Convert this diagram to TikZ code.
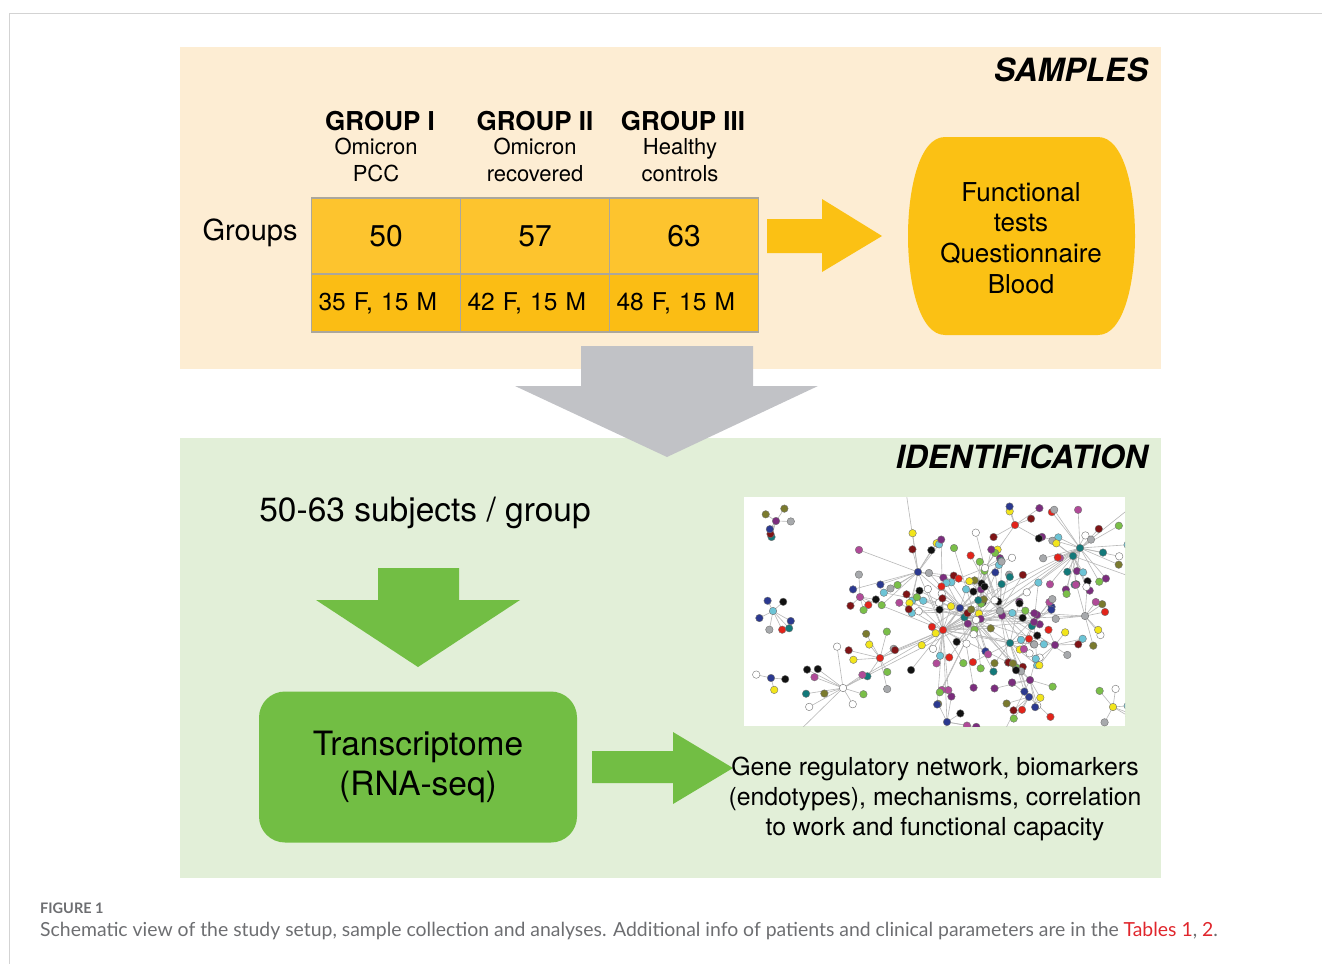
\documentclass[tikz,border=0pt]{standalone}
\usepackage{fontspec}
\setmainfont{TeX Gyre Heros}
\newfontfamily\capfont{Lato}
\usetikzlibrary{positioning}

\newcommand{\fsz}[2]{\fontsize{#1}{#2}\selectfont}

\definecolor{cream}{HTML}{FDEDD3}
\definecolor{mint}{HTML}{E2EFD8}
\definecolor{topfill}{HTML}{FDC42E}
\definecolor{lowfill}{HTML}{FBBD14}
\definecolor{cellline}{HTML}{ABA79C}
\definecolor{sunny}{HTML}{FBC114}
\definecolor{ash}{HTML}{C1C2C6}
\definecolor{leaf}{HTML}{72BE44}
\definecolor{frameline}{HTML}{D3D3D3}
\definecolor{capgrey}{HTML}{6D6E71}
\definecolor{capred}{HTML}{E0262C}
\definecolor{linkgrey}{HTML}{B8B8B8}
% node colours of the network
\definecolor{nc1}{HTML}{7B2D7E}
\definecolor{nc2}{HTML}{13797A}
\definecolor{nc3}{HTML}{6CC4D6}
\definecolor{nc4}{HTML}{7ABF48}
\definecolor{nc5}{HTML}{A7A9AC}
\definecolor{nc6}{HTML}{2B3990}
\definecolor{nc7}{HTML}{E2231A}
\definecolor{nc8}{HTML}{7F1416}
\definecolor{nc9}{HTML}{F2E51B}
\definecolor{nc10}{HTML}{7A7A2E}
\definecolor{nc11}{HTML}{B04A98}
\definecolor{nc12}{HTML}{111111}
\definecolor{nc13}{HTML}{FFFFFF}

\begin{document}
\begin{tikzpicture}[x=1pt, y=-1pt]
	\tikzstyle{Cell} = [draw=cellline, line width=1.6pt, fill=topfill, minimum width=149pt, minimum height=76pt, inner sep=0pt, node distance=149pt, font=\fsz{30}{34}]
	\tikzstyle{SubCell} = [Cell, fill=lowfill, minimum height=58pt, text width=135pt, align=left, font=\fsz{24.5}{28}]
	\tikzstyle{Head} = [inner sep=0pt, font=\bfseries\fsz{26}{30}]
	\tikzstyle{Sub} = [inner sep=0pt, align=center, font=\fsz{22}{27}]
	\tikzstyle{Title} = [inner sep=0pt, anchor=east, font=\bfseries\itshape\fsz{32}{36}]
	\tikzstyle{Link} = [draw=linkgrey, line width=0.6pt]
	\tikzstyle{Dot} = [circle, inner sep=0pt, minimum size=7.5pt, draw=black!55, line width=0.4pt]

	\useasboundingbox (0,0) rectangle (1322,964);
	\draw[frameline, line width=1pt] (1322,13) -- (9,13) -- (9,964);

	% panels
	\fill[cream] (180,47) rectangle (1161,369);
	\fill[mint] (180,438) rectangle (1161,878);

	\node[name=samples, Title] at (1148,70) {SAMPLES};
	\node[name=ident, Title] at (1148,457) {IDENTIFICATION};

	% group table
	\node[name=n1, Cell] at (386,236) {50};
	\node[name=n2, right of=n1, Cell] {57};
	\node[name=n3, right of=n2, Cell] {63};
	\node[name=s1, below of=n1, SubCell, node distance=67pt] {\raisebox{-3pt}{35 F, 15 M}};
	\node[name=s2, right of=s1, SubCell] {\raisebox{-3pt}{42 F, 15 M}};
	\node[name=s3, right of=s2, SubCell] {\raisebox{-3pt}{48 F, 15 M}};

	\node[name=groups, inner sep=0pt, font=\fsz{29}{33}] at (250,233) {Groups};

	\node[name=g1, Head] at (380,121) {GROUP I};
	\node[name=g2, Head] at (535,121) {GROUP II};
	\node[name=g3, Head] at (683,121) {GROUP III};
	\node[name=d1, Sub] at (376,160) {Omicron\\PCC};
	\node[name=d2, Sub] at (535,160) {Omicron\\recovered};
	\node[name=d3, Sub] at (680,160) {Healthy\\controls};

	% arrows
	\fill[sunny] (767,219) -- (822,219) -- (822,199) -- (882,236) -- (822,272) -- (822,253) -- (767,253) -- cycle;
	\fill[ash] (581,346) -- (753,346) -- (753,386) -- (818,386) -- (667,457) -- (515,386) -- (581,386) -- cycle;
	\fill[leaf] (378,568) -- (459,568) -- (459,600) -- (520,600) -- (418,667) -- (316,600) -- (378,600) -- cycle;
	\fill[leaf] (592,751) -- (673,751) -- (673,732) -- (733,768) -- (673,804) -- (673,783) -- (592,783) -- cycle;

	% sample types
	\fill[sunny] (945,137) -- (1098,137) .. controls (1124,137) and (1135,190) .. (1135,236) .. controls (1135,282) and (1124,335) .. (1098,335) -- (945,335) .. controls (919,335) and (908,282) .. (908,236) .. controls (908,190) and (919,137) .. (945,137) -- cycle;
	\node[name=tests, align=center, inner sep=0pt, font=\fsz{26}{30.7}] at (1021,238) {Functional\\tests\\Questionnaire\\Blood};

	\node[name=subjects, inner sep=0pt, font=\fsz{33.5}{38}] at (425,513) {50-63 subjects / group};
	\node[name=rna, draw=none, fill=leaf, rounded corners=26pt, minimum width=318pt, minimum height=151pt, align=center, font=\fsz{33.5}{40}] at (418,767) {Transcriptome\\(RNA-seq)};
	\node[name=result, inner sep=0pt, align=center, font=\fsz{24.8}{30}] at (935,799) {Gene regulatory network, biomarkers\\(endotypes), mechanisms, correlation\\to work and functional capacity};

	% network picture
	\fill[white] (744,497) rectangle (1125,726);
	\begin{scope}
		\clip (744,497) rectangle (1125,726);
		\foreach \h/\x/\y in {ha/776/521, hb/773/611, hc/771/678, hd/1113/707, he/880/658, hf/843/688, hg/860/597, hh/918/572, hi/985/568, hj/1080/548, hk/943/630, hl/976/620, hm/1000/611, hn/1010/643, ho/1034/622, hp/1085/616, hq/1055/645, hr/1030/680, hs/947/722, ht/1029/697, hu/1015/525, hv/960/608, hw/1073/556, o1/790/740, o2/905/485, o3/1140/500, o4/1140/580, o5/1000/740}
			\coordinate (\h) at (\x,\y);
		\foreach \a/\b in {hk/he, hk/hf, hl/hf, hl/hj, hk/hj, hm/hj, hl/ho, hl/hp, hh/hk, hi/hl, hi/hm, hv/hk, hv/hl, hn/hl, hn/hk, hm/hp, hq/hl, hr/hl, ht/hn, hs/hk, hu/hi, hw/hm, hg/hk, hl/hm, hk/hm, hv/hh, hf/o1, hh/o2, hj/o3, hw/o4, hr/o5, he/hl, hv/hj, hk/ho}
			\draw[Link] (\a) -- (\b);
		\pgfmathsetseed{4242}
		\foreach \h/\n/\r in {ha/6/22, hb/7/25, hc/3/20, hd/6/24, he/9/35, hf/10/42, hg/5/25, hh/10/40, hi/10/38, hj/20/48, hk/16/55, hl/16/60, hm/12/50, hn/10/45, ho/9/42, hp/9/38, hq/7/30, hr/8/38, hs/6/35, ht/7/30, hu/6/30, hv/8/35, hw/10/40, hk/10/95, hl/10/100, hm/8/90, hv/8/85, hh/5/70}
			\foreach \k in {1,...,\n} {
				\pgfmathsetmacro\ang{rnd*360}
				\pgfmathsetmacro\rad{\r*(0.45+0.55*rnd)}
				\pgfmathtruncatemacro\ci{random(1,13)}
				\draw[Link] (\h) -- ++(\ang:\rad);
			}
		\pgfmathsetseed{4242}
		\foreach \h/\n/\r in {ha/6/22, hb/7/25, hc/3/20, hd/6/24, he/9/35, hf/10/42, hg/5/25, hh/10/40, hi/10/38, hj/20/48, hk/16/55, hl/16/60, hm/12/50, hn/10/45, ho/9/42, hp/9/38, hq/7/30, hr/8/38, hs/6/35, ht/7/30, hu/6/30, hv/8/35, hw/10/40, hk/10/95, hl/10/100, hm/8/90, hv/8/85, hh/5/70}
			\foreach \k in {1,...,\n} {
				\pgfmathsetmacro\ang{rnd*360}
				\pgfmathsetmacro\rad{\r*(0.45+0.55*rnd)}
				\pgfmathtruncatemacro\ci{random(1,13)}
				\path (\h) ++(\ang:\rad) node[Dot, fill=nc\ci] {};
			}
		\foreach \h/\c in {ha/nc1, hb/nc3, hc/nc6, hd/nc9, he/nc7, hf/nc13, hg/nc11, hh/nc6, hi/nc13, hj/nc2, hk/nc7, hl/nc13, hm/nc5, hn/nc2, ho/nc1, hp/nc5, hq/nc1, hr/nc1, hs/nc6, ht/nc6, hu/nc7, hv/nc6, hw/nc2}
			\node[Dot, fill=\c] at (\h) {};
	\end{scope}

	% caption
	\node[name=figno, anchor=west, inner sep=0pt, text=capgrey, font=\capfont\bfseries\fsz{14.5}{16}] at (40,908) {FIGURE 1};
	\node[name=caption, anchor=west, inner sep=0pt, text=capgrey, font=\capfont\fsz{19.4}{22}] at (40,931) {Schematic view of the study setup, sample collection and analyses. Additional info of patients and clinical parameters are in the \textcolor{capred}{Tables 1}, \textcolor{capred}{2}.};
\end{tikzpicture}
\end{document}
